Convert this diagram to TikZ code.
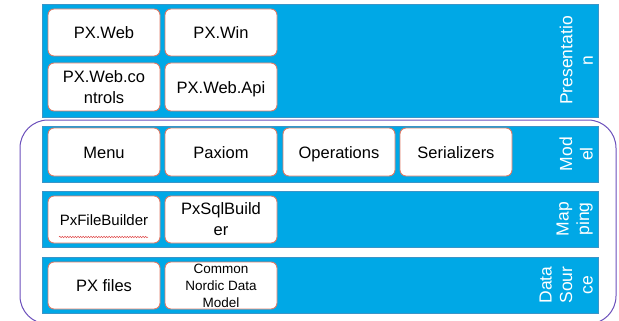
\documentclass[tikz,border=0pt]{standalone}
\usepackage{fontspec}
\setmainfont{Liberation Sans}
\usetikzlibrary{decorations.pathmorphing}
\definecolor{pblue}{HTML}{00A8E6}
\definecolor{pedge}{HTML}{3A95C8}
\definecolor{ppurple}{HTML}{6B4FBB}
\definecolor{psalmon}{HTML}{E07A66}
\definecolor{pred}{HTML}{E04848}
\begin{document}
\begin{tikzpicture}[x=1pt,y=-1pt,
  panel/.style={fill=pblue,draw=pedge,line width=0.6pt},
  wbox/.style={draw=psalmon,fill=white,line width=0.9pt,rounded corners=6pt,
    minimum width=112pt,inner sep=0pt,align=center,
    font=\fontsize{16.5}{21}\selectfont},
  oneline/.style={text height=12pt,text depth=0pt},
  smallbox/.style={wbox,font=\fontsize{13.5}{17}\selectfont},
  midbox/.style={wbox,font=\fontsize{15}{19}\selectfont},
  layerlabel/.style={rotate=90,anchor=south,inner sep=0pt,text=white,align=center,
    font=\fontsize{17.5}{20.5}\selectfont}]
\useasboundingbox (0,0) rectangle (619,321);
% outer model group
\draw[ppurple,line width=1pt,rounded corners=28pt] (20,120) rectangle (616,324);
% panels
\fill[panel] (42,4) rectangle (598,117);
\fill[panel] (42,126) rectangle (598,182);
\fill[panel] (42,191) rectangle (598,247);
\fill[panel] (42,257) rectangle (598,313);
\draw[pedge,line width=0.6pt] (42,4) rectangle (598,117);
\draw[pedge,line width=0.6pt] (42,126) rectangle (598,182);
\draw[pedge,line width=0.6pt] (42,191) rectangle (598,247);
\draw[pedge,line width=0.6pt] (42,257) rectangle (598,313);
% presentation
\node[wbox,oneline,minimum height=47pt] (pxweb) at (104,32.5) {PX.Web};
\node[wbox,oneline,minimum height=47pt] (pxwin) at (221,32.5) {PX.Win};
\node[wbox,minimum height=48pt] (pxwebc) at (104,87) {PX.Web.co\\ntrols};
\node[wbox,oneline,minimum height=48pt] (pxwebapi) at (221,87) {PX.Web.Api};
\node[layerlabel] (lpres) at (593,60.5) {Presentatio\\n};
% model
\node[wbox,oneline,minimum height=48pt] (menu) at (104,152) {Menu};
\node[wbox,oneline,minimum height=48pt] (paxiom) at (221,152) {Paxiom};
\node[wbox,oneline,minimum height=48pt] (ops) at (339,152) {Operations};
\node[wbox,oneline,minimum height=48pt] (ser) at (456,152) {Serializers};
\node[layerlabel] (lmodel) at (593,154) {Mod\\el};
% mapping
\node[midbox,oneline,minimum height=47pt] (pxfb) at (104,219.5) {PxFileBuilder};
\node[wbox,minimum height=47pt] (pxsql) at (221,219.5) {PxSqlBuild\\er};
\node[layerlabel] (lmap) at (593,219) {Map\\ping};
\draw[pred,line width=0.5pt,decorate,decoration={snake,amplitude=0.7pt,segment length=2.6pt}]
  (59,237) -- (148,237);
% data source
\node[wbox,oneline,minimum height=47pt] (pxfiles) at (104,285.5) {PX files};
\node[smallbox,minimum height=47pt] (cndm) at (221,285.5) {Common\\Nordic Data\\Model};
\node[layerlabel] (ldata) at (593,285) {Data\\Sour\\ce};
\end{tikzpicture}
\end{document}
